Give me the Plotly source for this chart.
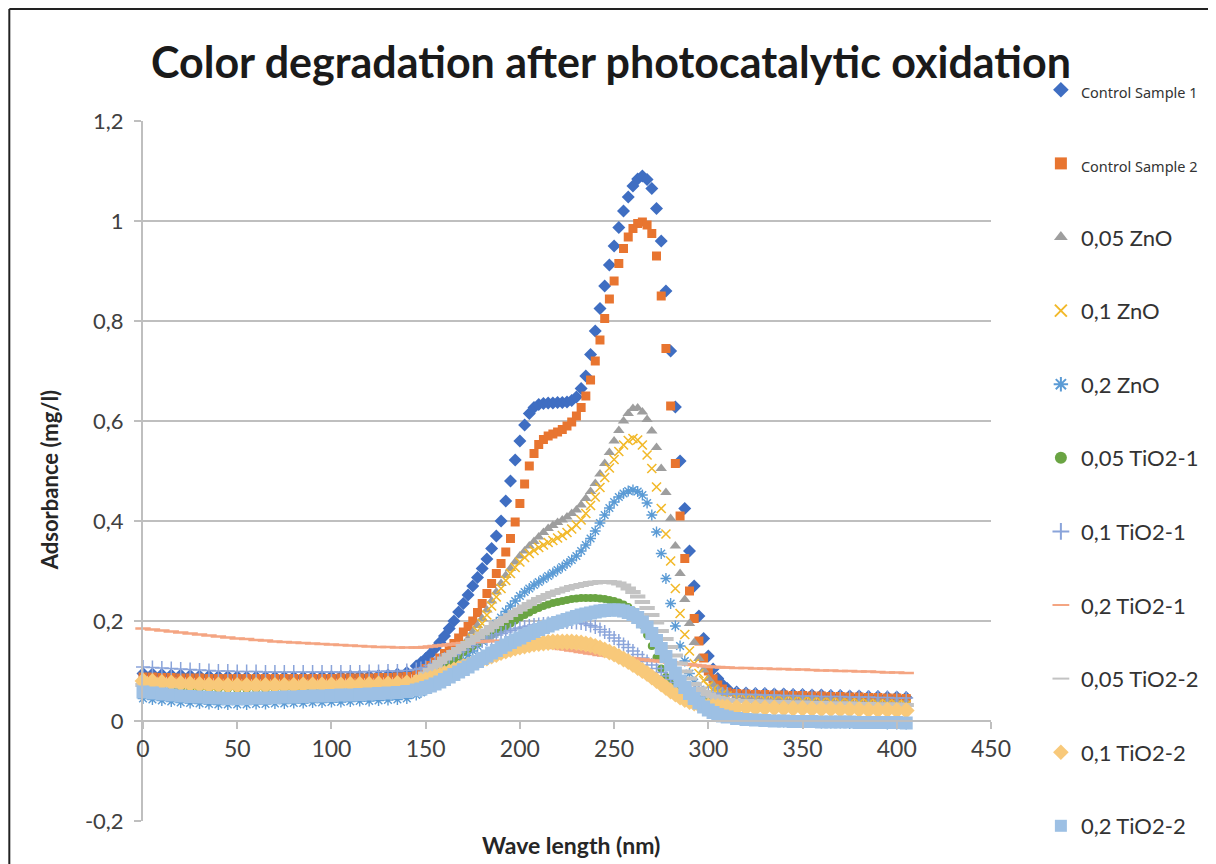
import plotly.graph_objects as go

# Wavelength grid (nm): 5 nm steps on the flat parts, 2.5 nm steps across the absorption band
X = list(range(0, 145, 5)) + [145 + 2.5 * i for i in range(67)] + list(range(315, 410, 5))

control_1 = [0.095, 0.094, 0.093, 0.092, 0.092, 0.091, 0.090, 0.090, 0.089, 0.089,
             0.089, 0.088, 0.088, 0.088, 0.088, 0.088, 0.088, 0.088, 0.088, 0.089,
             0.089, 0.089, 0.090, 0.090, 0.090, 0.091, 0.092, 0.094, 0.097,
             0.110, 0.117, 0.125, 0.134, 0.145, 0.157, 0.170, 0.185, 0.200, 0.218,
             0.235, 0.252, 0.270, 0.287, 0.305, 0.324, 0.345, 0.370, 0.400, 0.440,
             0.480, 0.522, 0.560, 0.592, 0.615, 0.627, 0.633, 0.635, 0.636, 0.636,
             0.637, 0.637, 0.638, 0.641, 0.648, 0.665, 0.690, 0.733, 0.780, 0.825,
             0.870, 0.912, 0.950, 0.987, 1.020, 1.048, 1.070, 1.084, 1.090, 1.083,
             1.065, 1.025, 0.960, 0.860, 0.740, 0.628, 0.520, 0.425, 0.340, 0.270,
             0.210, 0.165, 0.130, 0.104, 0.085, 0.073, 0.065,
             0.058, 0.056, 0.055, 0.055, 0.054, 0.054, 0.053, 0.053, 0.052, 0.052,
             0.051, 0.051, 0.050, 0.050, 0.049, 0.049, 0.048, 0.048, 0.047]

control_2 = [0.088, 0.088, 0.087, 0.087, 0.086, 0.086, 0.086, 0.085, 0.085, 0.085,
             0.085, 0.085, 0.085, 0.085, 0.085, 0.085, 0.085, 0.085, 0.085, 0.085,
             0.085, 0.086, 0.086, 0.086, 0.086, 0.087, 0.087, 0.088, 0.089,
             0.092, 0.098, 0.105, 0.111, 0.118, 0.126, 0.135, 0.145, 0.155, 0.166,
             0.178, 0.189, 0.200, 0.217, 0.235, 0.255, 0.275, 0.295, 0.315, 0.338,
             0.365, 0.398, 0.435, 0.474, 0.510, 0.535, 0.553, 0.563, 0.570, 0.574,
             0.578, 0.583, 0.590, 0.598, 0.610, 0.627, 0.650, 0.682, 0.720, 0.762,
             0.805, 0.844, 0.880, 0.915, 0.945, 0.968, 0.985, 0.995, 0.998, 0.992,
             0.975, 0.930, 0.850, 0.745, 0.630, 0.515, 0.410, 0.325, 0.260, 0.205,
             0.160, 0.126, 0.100, 0.084, 0.072, 0.064, 0.058,
             0.055, 0.054, 0.053, 0.053, 0.052, 0.052, 0.051, 0.051, 0.050, 0.050,
             0.049, 0.049, 0.048, 0.048, 0.047, 0.047, 0.046, 0.046, 0.045]

zno_005 = [0.078, 0.077, 0.077, 0.076, 0.076, 0.075, 0.075, 0.074, 0.074, 0.074,
           0.073, 0.073, 0.073, 0.073, 0.073, 0.073, 0.073, 0.073, 0.073, 0.073,
           0.073, 0.073, 0.073, 0.074, 0.074, 0.074, 0.075, 0.076, 0.077,
           0.080, 0.083, 0.086, 0.090, 0.095, 0.101, 0.108, 0.116, 0.125, 0.137,
           0.150, 0.164, 0.178, 0.191, 0.205, 0.222, 0.240, 0.258, 0.275, 0.291,
           0.305, 0.318, 0.330, 0.340, 0.350, 0.359, 0.368, 0.377, 0.385, 0.391,
           0.397, 0.402, 0.408, 0.415, 0.422, 0.432, 0.445, 0.459, 0.475, 0.494,
           0.515, 0.537, 0.560, 0.581, 0.600, 0.615, 0.625, 0.626, 0.618, 0.603,
           0.580, 0.547, 0.505, 0.457, 0.405, 0.350, 0.295, 0.243, 0.195, 0.157,
           0.125, 0.102, 0.085, 0.073, 0.065, 0.059, 0.055,
           0.050, 0.049, 0.048, 0.047, 0.046, 0.046, 0.045, 0.044, 0.044, 0.043,
           0.043, 0.042, 0.041, 0.041, 0.040, 0.040, 0.039, 0.039, 0.038]

zno_01 = [0.074, 0.074, 0.073, 0.073, 0.072, 0.072, 0.072, 0.071, 0.071, 0.071,
          0.071, 0.071, 0.071, 0.071, 0.071, 0.071, 0.071, 0.071, 0.071, 0.071,
          0.071, 0.071, 0.071, 0.072, 0.072, 0.072, 0.073, 0.073, 0.074,
          0.076, 0.078, 0.081, 0.085, 0.090, 0.095, 0.100, 0.108, 0.118, 0.129,
          0.140, 0.152, 0.165, 0.180, 0.195, 0.212, 0.230, 0.248, 0.265, 0.281,
          0.295, 0.307, 0.318, 0.327, 0.335, 0.341, 0.347, 0.352, 0.357, 0.361,
          0.366, 0.371, 0.377, 0.384, 0.392, 0.402, 0.415, 0.431, 0.448, 0.467,
          0.487, 0.506, 0.523, 0.539, 0.552, 0.561, 0.565, 0.562, 0.552, 0.532,
          0.505, 0.468, 0.425, 0.374, 0.320, 0.265, 0.215, 0.173, 0.140, 0.115,
          0.095, 0.081, 0.070, 0.063, 0.058, 0.054, 0.050,
          0.046, 0.045, 0.044, 0.043, 0.042, 0.041, 0.041, 0.040, 0.039, 0.038,
          0.038, 0.037, 0.036, 0.036, 0.035, 0.034, 0.034, 0.033, 0.032]

zno_02 = [0.045, 0.043, 0.041, 0.039, 0.037, 0.036, 0.035, 0.034, 0.033, 0.033,
          0.033, 0.033, 0.034, 0.034, 0.035, 0.035, 0.036, 0.036, 0.037, 0.037,
          0.038, 0.038, 0.039, 0.040, 0.040, 0.041, 0.042, 0.043, 0.045,
          0.052, 0.057, 0.062, 0.068, 0.075, 0.082, 0.090, 0.097, 0.105, 0.113,
          0.122, 0.131, 0.140, 0.150, 0.160, 0.171, 0.183, 0.195, 0.207, 0.219,
          0.230, 0.240, 0.250, 0.258, 0.265, 0.272, 0.278, 0.284, 0.290, 0.296,
          0.302, 0.308, 0.315, 0.322, 0.330, 0.340, 0.352, 0.365, 0.380, 0.396,
          0.412, 0.426, 0.438, 0.448, 0.455, 0.460, 0.462, 0.459, 0.452, 0.436,
          0.412, 0.378, 0.335, 0.285, 0.235, 0.190, 0.150, 0.120, 0.095, 0.077,
          0.062, 0.050, 0.040, 0.032, 0.025, 0.020, 0.015,
          0.008, 0.004, 0.002, 0.000, -0.001, -0.002, -0.002, -0.003, -0.003, -0.004,
          -0.004, -0.004, -0.005, -0.005, -0.005, -0.005, -0.006, -0.006, -0.006]

tio2_1_005 = [0.068, 0.067, 0.067, 0.066, 0.066, 0.065, 0.065, 0.064, 0.064, 0.064,
              0.063, 0.063, 0.063, 0.063, 0.063, 0.063, 0.063, 0.063, 0.063, 0.063,
              0.063, 0.063, 0.064, 0.064, 0.064, 0.065, 0.065, 0.066, 0.067,
              0.070, 0.074, 0.078, 0.084, 0.090, 0.097, 0.105, 0.113, 0.122, 0.130,
              0.138, 0.144, 0.150, 0.156, 0.162, 0.167, 0.172, 0.177, 0.183, 0.189,
              0.195, 0.201, 0.207, 0.212, 0.217, 0.222, 0.226, 0.230, 0.233, 0.236,
              0.238, 0.240, 0.242, 0.244, 0.245, 0.246, 0.246, 0.246, 0.246, 0.245,
              0.244, 0.242, 0.240, 0.237, 0.233, 0.228, 0.220, 0.208, 0.192, 0.172,
              0.150, 0.127, 0.105, 0.088, 0.075, 0.065, 0.058, 0.052, 0.048, 0.045,
              0.042, 0.040, 0.038, 0.036, 0.035, 0.034, 0.033,
              0.031, 0.031, 0.030, 0.030, 0.029, 0.029, 0.028, 0.028, 0.027, 0.027,
              0.026, 0.026, 0.025, 0.025, 0.024, 0.024, 0.023, 0.023, 0.022]

tio2_1_01 = [0.108, 0.107, 0.106, 0.105, 0.104, 0.103, 0.102, 0.101, 0.100, 0.100,
             0.099, 0.099, 0.099, 0.098, 0.098, 0.098, 0.098, 0.098, 0.098, 0.098,
             0.098, 0.098, 0.098, 0.098, 0.099, 0.099, 0.100, 0.100, 0.101,
             0.103, 0.105, 0.107, 0.111, 0.115, 0.120, 0.124, 0.129, 0.133, 0.138,
             0.142, 0.147, 0.151, 0.156, 0.160, 0.164, 0.168, 0.172, 0.175, 0.178,
             0.181, 0.184, 0.186, 0.188, 0.190, 0.192, 0.193, 0.194, 0.195, 0.196,
             0.197, 0.198, 0.198, 0.198, 0.197, 0.196, 0.194, 0.191, 0.188, 0.183,
             0.178, 0.172, 0.166, 0.160, 0.153, 0.147, 0.140, 0.133, 0.126, 0.119,
             0.112, 0.105, 0.097, 0.090, 0.083, 0.077, 0.072, 0.068, 0.064, 0.061,
             0.059, 0.057, 0.056, 0.055, 0.055, 0.054, 0.054,
             0.054, 0.053, 0.053, 0.052, 0.052, 0.051, 0.051, 0.050, 0.050, 0.049,
             0.049, 0.049, 0.048, 0.048, 0.048, 0.047, 0.047, 0.046, 0.046]

tio2_1_02 = [0.185, 0.183, 0.181, 0.179, 0.177, 0.175, 0.173, 0.171, 0.169, 0.167,
             0.165, 0.164, 0.162, 0.161, 0.159, 0.158, 0.157, 0.156, 0.155, 0.154,
             0.153, 0.152, 0.151, 0.150, 0.149, 0.148, 0.148, 0.147, 0.147,
             0.147, 0.147, 0.148, 0.149, 0.150, 0.151, 0.152, 0.153, 0.154, 0.155,
             0.156, 0.157, 0.158, 0.158, 0.159, 0.160, 0.160, 0.160, 0.160, 0.160,
             0.159, 0.158, 0.157, 0.156, 0.155, 0.153, 0.152, 0.150, 0.149, 0.147,
             0.146, 0.144, 0.143, 0.141, 0.140, 0.138, 0.137, 0.135, 0.134, 0.132,
             0.131, 0.130, 0.129, 0.128, 0.127, 0.126, 0.125, 0.124, 0.123, 0.122,
             0.121, 0.120, 0.119, 0.118, 0.117, 0.116, 0.115, 0.114, 0.113, 0.112,
             0.111, 0.110, 0.109, 0.108, 0.108, 0.107, 0.107,
             0.106, 0.106, 0.105, 0.105, 0.104, 0.104, 0.103, 0.103, 0.102, 0.101,
             0.101, 0.100, 0.100, 0.099, 0.099, 0.098, 0.097, 0.097, 0.096]

tio2_2_005 = [0.072, 0.072, 0.071, 0.071, 0.071, 0.070, 0.070, 0.070, 0.070, 0.070,
              0.070, 0.070, 0.070, 0.070, 0.070, 0.070, 0.070, 0.070, 0.070, 0.070,
              0.070, 0.070, 0.071, 0.071, 0.071, 0.072, 0.072, 0.073, 0.075,
              0.080, 0.088, 0.095, 0.102, 0.110, 0.118, 0.125, 0.132, 0.138, 0.144,
              0.150, 0.156, 0.162, 0.168, 0.175, 0.181, 0.188, 0.194, 0.200, 0.206,
              0.212, 0.218, 0.223, 0.229, 0.234, 0.239, 0.244, 0.248, 0.252, 0.256,
              0.259, 0.262, 0.265, 0.268, 0.270, 0.272, 0.274, 0.276, 0.277, 0.278,
              0.278, 0.278, 0.277, 0.275, 0.271, 0.265, 0.258, 0.249, 0.238, 0.226,
              0.212, 0.197, 0.180, 0.164, 0.148, 0.131, 0.115, 0.099, 0.085, 0.074,
              0.065, 0.058, 0.053, 0.049, 0.046, 0.044, 0.042,
              0.040, 0.040, 0.039, 0.039, 0.038, 0.038, 0.037, 0.037, 0.036, 0.036,
              0.035, 0.035, 0.035, 0.034, 0.034, 0.033, 0.033, 0.033, 0.032]

tio2_2_01 = [0.080, 0.079, 0.077, 0.076, 0.075, 0.074, 0.073, 0.072, 0.072, 0.071,
             0.071, 0.071, 0.071, 0.071, 0.071, 0.071, 0.071, 0.072, 0.072, 0.072,
             0.072, 0.072, 0.073, 0.073, 0.073, 0.074, 0.074, 0.075, 0.076,
             0.078, 0.080, 0.082, 0.085, 0.088, 0.091, 0.095, 0.098, 0.102, 0.105,
             0.109, 0.112, 0.116, 0.119, 0.123, 0.126, 0.130, 0.133, 0.137, 0.140,
             0.143, 0.146, 0.148, 0.150, 0.152, 0.154, 0.155, 0.156, 0.157, 0.158,
             0.158, 0.158, 0.158, 0.158, 0.157, 0.156, 0.154, 0.152, 0.149, 0.146,
             0.142, 0.138, 0.134, 0.129, 0.124, 0.119, 0.113, 0.107, 0.101, 0.095,
             0.088, 0.081, 0.074, 0.067, 0.060, 0.054, 0.048, 0.043, 0.039, 0.036,
             0.033, 0.031, 0.030, 0.029, 0.029, 0.028, 0.028,
             0.027, 0.027, 0.026, 0.026, 0.026, 0.025, 0.025, 0.025, 0.024, 0.024,
             0.024, 0.023, 0.023, 0.023, 0.022, 0.022, 0.022, 0.021, 0.021]

tio2_2_02 = [0.058, 0.056, 0.054, 0.052, 0.050, 0.049, 0.048, 0.047, 0.046, 0.045,
             0.045, 0.045, 0.046, 0.046, 0.047, 0.048, 0.048, 0.049, 0.050, 0.050,
             0.051, 0.052, 0.052, 0.053, 0.054, 0.055, 0.056, 0.057, 0.059,
             0.062, 0.064, 0.067, 0.070, 0.074, 0.078, 0.083, 0.088, 0.093, 0.098,
             0.103, 0.108, 0.114, 0.119, 0.125, 0.130, 0.136, 0.141, 0.147, 0.152,
             0.157, 0.162, 0.166, 0.171, 0.175, 0.179, 0.183, 0.187, 0.190, 0.194,
             0.197, 0.200, 0.203, 0.206, 0.209, 0.212, 0.214, 0.216, 0.218, 0.220,
             0.221, 0.222, 0.222, 0.222, 0.220, 0.217, 0.213, 0.207, 0.198, 0.188,
             0.175, 0.161, 0.145, 0.129, 0.112, 0.096, 0.080, 0.067, 0.055, 0.045,
             0.036, 0.028, 0.022, 0.017, 0.013, 0.010, 0.008,
             0.005, 0.003, 0.002, 0.001, 0.000, 0.000, -0.001, -0.001, -0.001, -0.002,
             -0.002, -0.002, -0.002, -0.003, -0.003, -0.003, -0.003, -0.003, -0.004]

series_names = ["Control Sample 1", "Control Sample 2", "0,05 ZnO", "0,1 ZnO", "0,2 ZnO",
                "0,05 TiO2-1", "0,1 TiO2-1", "0,2 TiO2-1", "0,05 TiO2-2", "0,1 TiO2-2",
                "0,2 TiO2-2"]
series_values = [control_1, control_2, zno_005, zno_01, zno_02, tio2_1_005, tio2_1_01,
                 tio2_1_02, tio2_2_005, tio2_2_01, tio2_2_02]

y_tick_vals = [-0.2, 0, 0.2, 0.4, 0.6, 0.8, 1.0, 1.2]
y_tick_text = ["-0,2", "0", "0,2", "0,4", "0,6", "0,8", "1", "1,2"]
x_tick_vals = [0, 50, 100, 150, 200, 250, 300, 350, 400, 450]

for s in series_values:
    assert len(s) == len(X), len(s)

styles = [
    dict(symbol="diamond", size=10, color="#3F6EC2"),
    dict(symbol="square", size=9, color="#E87530"),
    dict(symbol="triangle-up", size=10, color="#9E9E9E"),
    dict(symbol="x-thin-open", size=9, color="#F2B92A", line=dict(color="#F2B92A", width=1.6)),
    dict(symbol="asterisk-open", size=9, color="#5B9BD5", line=dict(color="#5B9BD5", width=1.4)),
    dict(symbol="circle", size=8, color="#6AA443"),
    dict(symbol="cross-thin-open", size=10, color="#8AA4DA", line=dict(color="#8AA4DA", width=1.5)),
    dict(symbol="line-ew-open", size=11, color="#F4A582", line=dict(color="#F4A582", width=2.5)),
    dict(symbol="line-ew-open", size=11, color="#C3C3C3", line=dict(color="#C3C3C3", width=4)),
    dict(symbol="diamond", size=13, color="#F8C97A"),
    dict(symbol="square", size=13, color="#9DC0E4"),
]

fig = go.Figure()
for i, (name, vals, st) in enumerate(zip(series_names, series_values, styles)):
    label = name
    if i < 2:
        label = "<span style='font-size:14.5px;font-family:Noto Sans'>" + name + "</span>"
    fig.add_trace(go.Scatter(
        x=X, y=vals, mode="markers", name=label, legendgroup=f"g{i}",
        marker=st, cliponaxis=False,
    ))

# The page has an 8 px body margin, so screen pixel p maps to figure pixel p - 8.
OFF = 8
W, H = 1208, 856
L, T = 143 - OFF, 121 - OFF
R = W - (993 - OFF)
B = H - (821 - OFF)
pw, ph = W - L - R, H - T - B

def px(xs):
    return (xs - OFF - L) / pw

def py(ys):
    return (H - B - (ys - OFF)) / ph

fig.update_layout(
    width=W, height=H,
    margin=dict(l=L, r=R, t=T, b=B),
    paper_bgcolor="white", plot_bgcolor="white",
    font=dict(family="Lato, Open Sans, sans-serif", color="#333333", size=22),
    showlegend=True,
    legend=dict(x=px(1043), y=py(69), xanchor="left", yanchor="top",
                font=dict(size=22, color="#333333"), tracegroupgap=42,
                itemsizing="constant", bgcolor="rgba(0,0,0,0)"),
    xaxis=dict(range=[0, 450], tickvals=x_tick_vals, showgrid=False, zeroline=False,
               showline=True, linecolor="#BFBFBF", linewidth=2,
               ticks="outside", ticklen=7, tickcolor="#BFBFBF", tickwidth=2,
               anchor="free", position=0.2 / 1.4,
               tickfont=dict(size=23, color="#404040")),
    yaxis=dict(range=[-0.2, 1.2], tickvals=y_tick_vals, ticktext=y_tick_text,
               showgrid=True, gridcolor="#BFBFBF", gridwidth=2, zeroline=False,
               showline=True, linecolor="#BFBFBF", linewidth=2,
               ticks="outside", ticklen=7, tickcolor="#BFBFBF", tickwidth=2,
               ticklabelstandoff=6,
               tickfont=dict(size=22, color="#404040")),
    annotations=[
        dict(text="<b>Color degradation after photocatalytic oxidation</b>",
             x=px(612), y=py(62), xref="paper", yref="paper", showarrow=False,
             xanchor="center", yanchor="middle",
             font=dict(size=43, color="#1a1a1a", family="Lato")),
        dict(text="<b>Adsorbance (mg/l)</b>", textangle=-90,
             x=px(49), y=py(480), xref="paper", yref="paper", showarrow=False,
             xanchor="center", yanchor="middle",
             font=dict(size=22, color="#262626", family="Lato")),
        dict(text="<b>Wave length (nm)</b>",
             x=px(572), y=py(845), xref="paper", yref="paper", showarrow=False,
             xanchor="center", yanchor="middle",
             font=dict(size=23, color="#262626", family="Lato")),
    ],
    shapes=[
        dict(type="line", xref="paper", yref="paper", x0=px(9), x1=px(9), y0=py(9), y1=py(870),
             line=dict(color="#222222", width=2)),
        dict(type="line", xref="paper", yref="paper", x0=px(9), x1=px(1220), y0=py(9), y1=py(9),
             line=dict(color="#222222", width=2)),
    ],
)

try:
    fig.update_layout(legend_maxheight=840)
except Exception:
    pass

fig.write_html("out.html")
